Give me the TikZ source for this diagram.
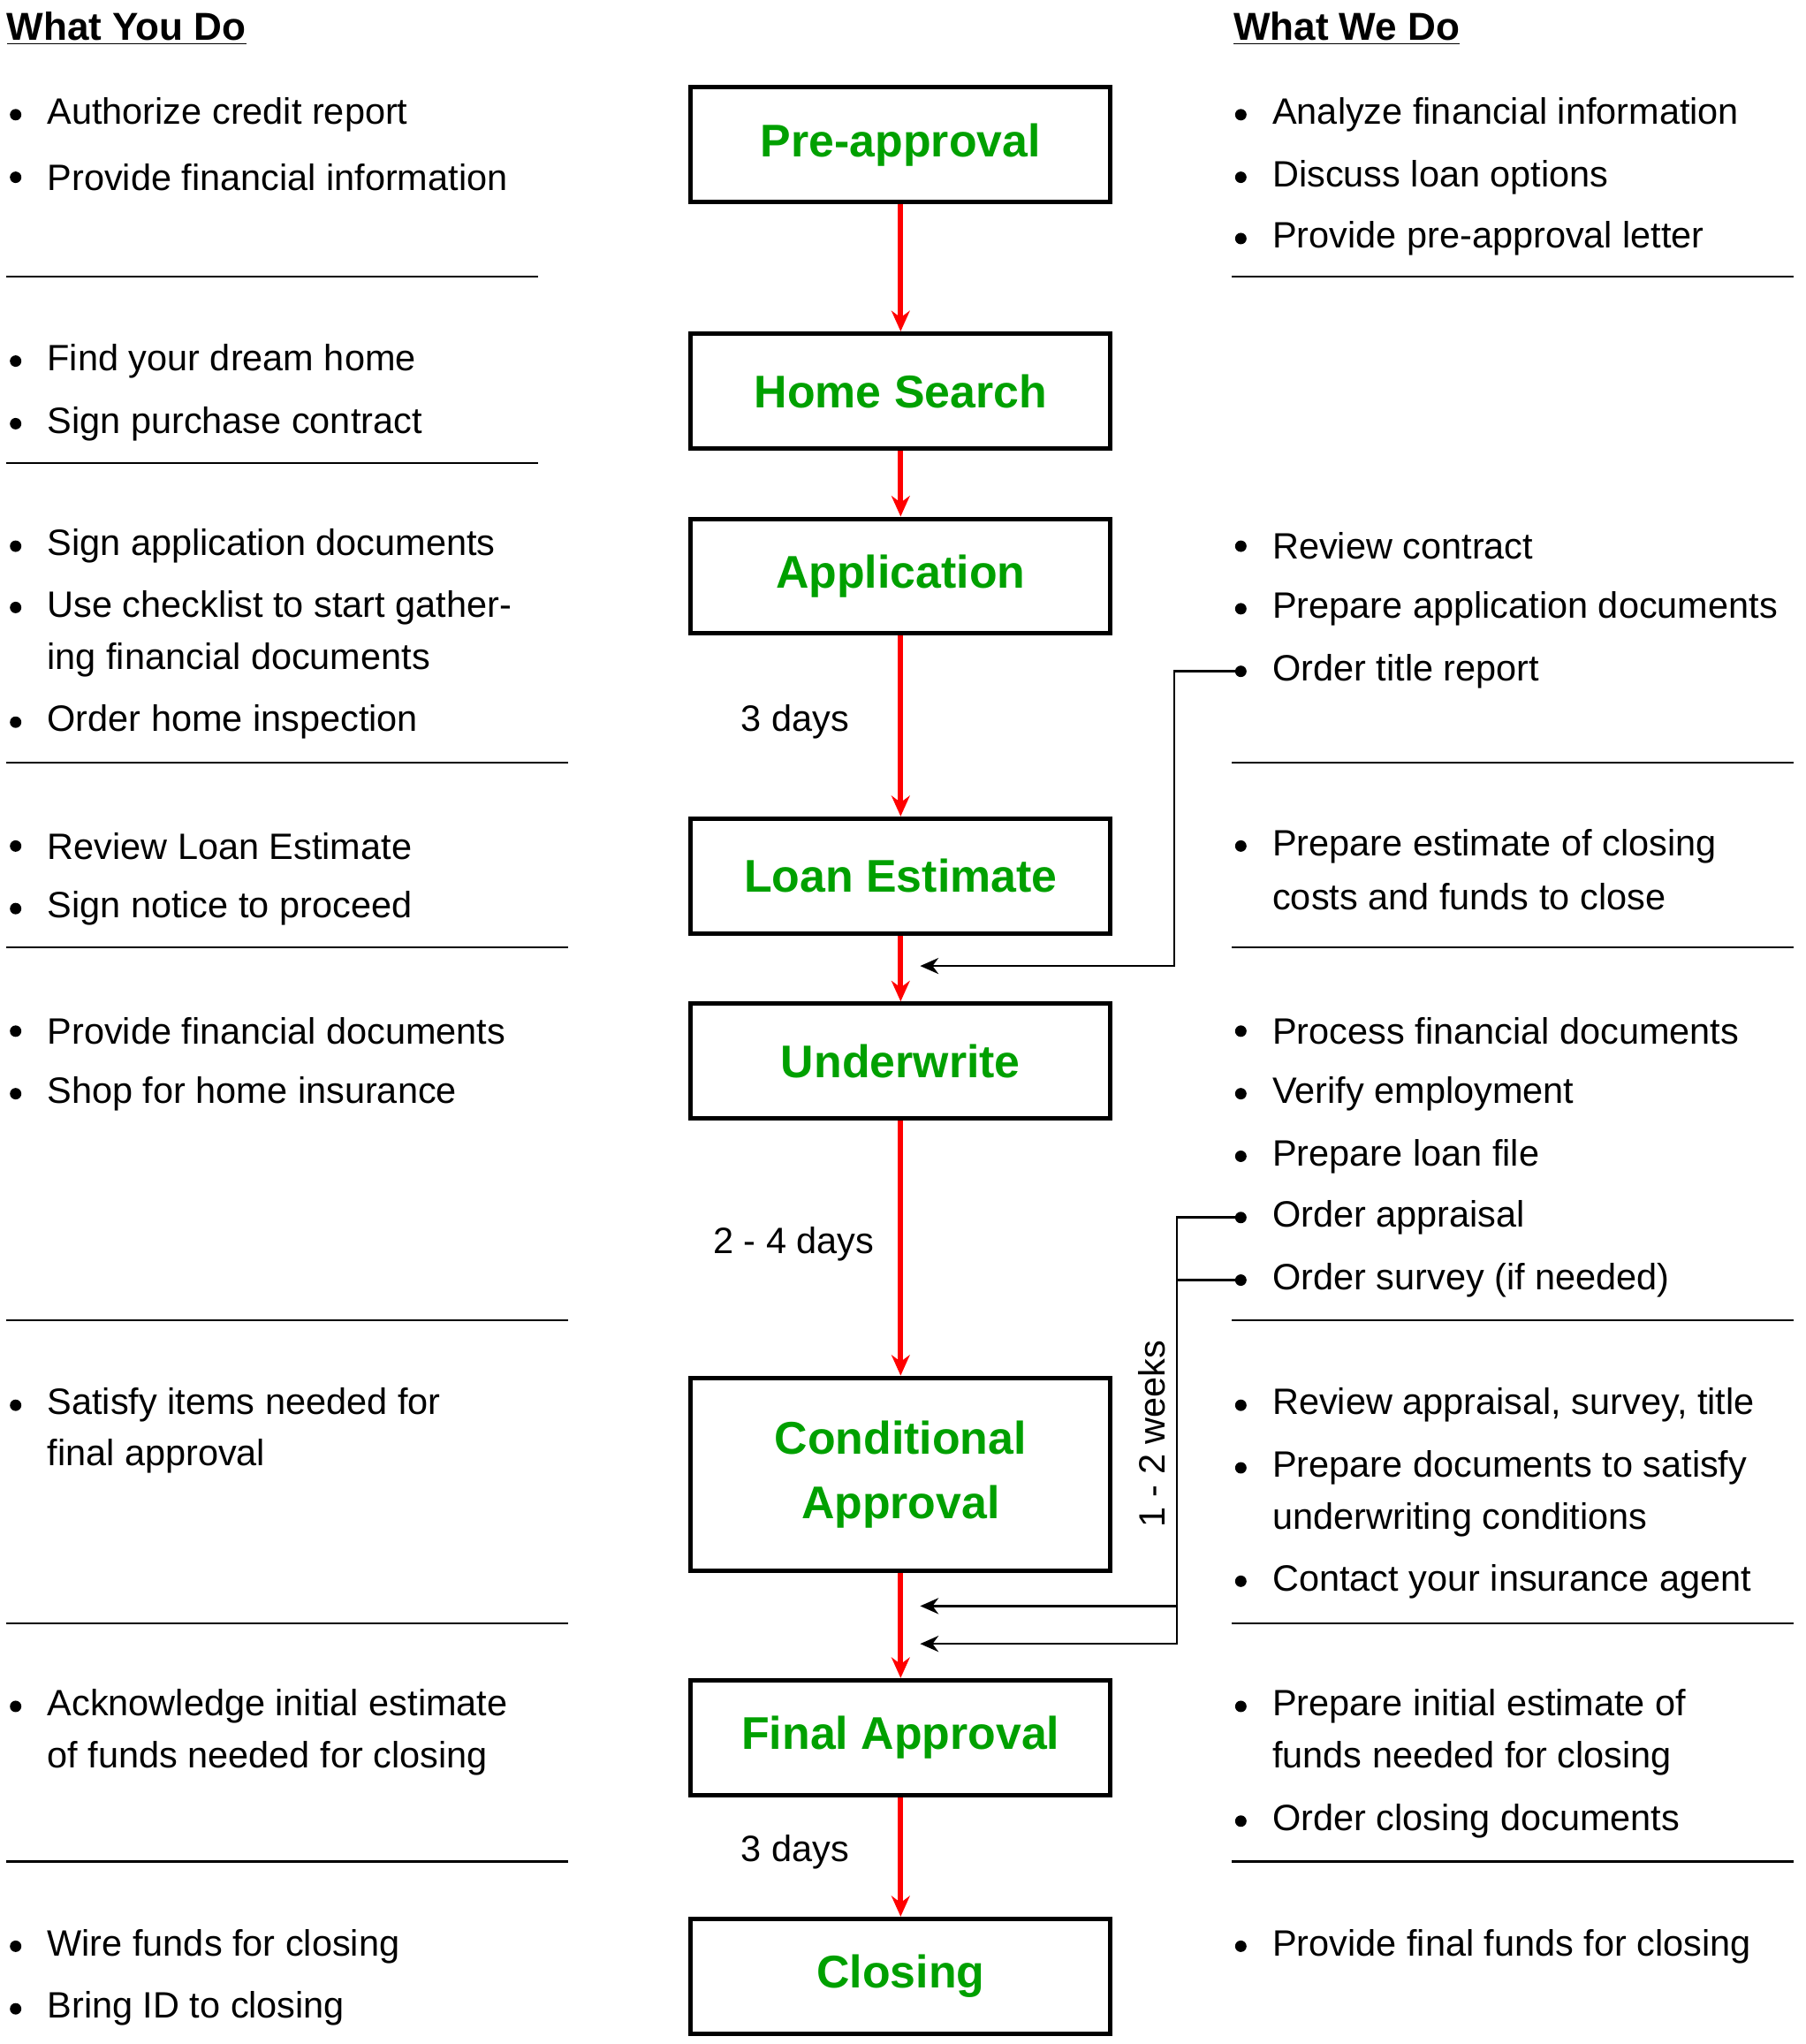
\documentclass[tikz,border=0pt]{standalone}
\usepackage{fontspec}
\setmainfont{Liberation Sans}
\usetikzlibrary{arrows.meta}
\definecolor{stepgreen}{RGB}{0,160,0}
\tikzset{
  stepbox/.style={draw, line width=2pt, minimum width=6.44cm, minimum height=1.76cm,
    text=stepgreen, font=\fontsize{20}{28}\selectfont\bfseries, align=center},
  flow/.style={red, line width=2.4pt, -{Stealth[length=9pt,width=8pt]}},
  link/.style={black, line width=1pt, -{Stealth[length=8pt,width=7pt]}},
  txt/.style={anchor=west, inner sep=0pt, font=\fontsize{16}{20}\selectfont},
  dot/.style={circle, fill, inner sep=0pt, minimum size=5pt},
  rule/.style={line width=0.8pt}
}
\begin{document}
\begin{tikzpicture}[x=0.02cm, y=-0.02cm]
\useasboundingbox (0,0) rectangle (1385,1568);
% headers
\node[txt, font=\fontsize{17}{20}\selectfont\bfseries] (hyou) at (5,22) {\underline{What You Do}};
\node[txt, font=\fontsize{17}{20}\selectfont\bfseries] (hwe) at (946,22) {\underline{What We Do}};
% steps
\node[stepbox] (pre) at (691,111) {Pre-approval};
\node[stepbox] (home) at (691,300) {Home Search};
\node[stepbox] (app) at (691,442) {Application};
\node[stepbox] (le) at (691,672) {Loan Estimate};
\node[stepbox] (uw) at (691,814) {Underwrite};
\node[stepbox, minimum height=2.96cm] (cond) at (691,1131) {Conditional\\Approval};
\node[stepbox] (final) at (691,1333) {Final Approval};
\node[stepbox] (close) at (691,1516) {Closing};
\draw[flow] (pre) -- (home);
\draw[flow] (home) -- (app);
\draw[flow] (app) -- (le);
\draw[flow] (le) -- (uw);
\draw[flow] (uw) -- (cond);
\draw[flow] (cond) -- (final);
\draw[flow] (final) -- (close);
% durations
\node[txt, anchor=center] (d1) at (610,554) {3 days};
\node[txt, anchor=center] (d2) at (609,954) {2 - 4 days};
\node[txt, anchor=center] (d3) at (610,1421) {3 days};
\node[txt, anchor=center, rotate=90] (d4) at (884,1100) {1 - 2 weeks};
% separators
\foreach \y in {212,355} \draw[rule] (5,\y) -- (413,\y);
\foreach \y in {585,727,1013,1245,1428} \draw[rule] (5,\y) -- (436,\y);
\foreach \y in {212,585,727,1013,1245,1428} \draw[rule] (945,\y) -- (1376,\y);
% what you do
\foreach \y [count=\i] in {88,136,277,325,419,466,554,649,697,791,839,1078,1309,1493,1541}
  \node[dot] (lb\i) at (12,\y) {};
\foreach \y/\t [count=\i] in {88/{Authorize credit report},136/{Provide financial information},
  277/{Find your dream home},325/{Sign purchase contract},419/{Sign application documents},
  466/{Use checklist to start gather-},506/{ing financial documents},554/{Order home inspection},
  649/{Review Loan Estimate},697/{Sign notice to proceed},791/{Provide financial documents},
  839/{Shop for home insurance},1078/{Satisfy items needed for},1117/{final approval},
  1309/{Acknowledge initial estimate},1349/{of funds needed for closing},
  1493/{Wire funds for closing},1541/{Bring ID to closing}}
  \node[txt] (lt\i) at (36,\y) {\t};
% what we do
\foreach \y [count=\i] in {88,136,183,419,467,649,791,839,887,1078,1126,1213,1309,1397,1493}
  \node[dot] (rb\i) at (952,\y) {};
\node[dot] (rtitle) at (952,515) {};
\node[dot] (rappr) at (952,934) {};
\node[dot] (rsurv) at (952,982) {};
\foreach \y/\t [count=\i] in {88/{Analyze financial information},136/{Discuss loan options},
  183/{Provide pre-approval letter},419/{Review contract},467/{Prepare application documents},
  515/{Order title report},649/{Prepare estimate of closing},688/{costs and funds to close},
  791/{Process financial documents},839/{Verify employment},887/{Prepare loan file},
  934/{Order appraisal},982/{Order survey (if needed)},1078/{Review appraisal, survey, title},
  1126/{Prepare documents to satisfy},1166/{underwriting conditions},
  1213/{Contact your insurance agent},1309/{Prepare initial estimate of},
  1349/{funds needed for closing},1397/{Order closing documents},1493/{Provide final funds for closing}}
  \node[txt] (rt\i) at (976,\y) {\t};
% feedback links
\coordinate (inle) at (706,741);
\coordinate (inc1) at (706,1232);
\coordinate (inc2) at (706,1261);
\draw[link] (rtitle.center) -- (901,515) |- (inle);
\draw[link] (rappr.center) -- (903,934) |- (inc1);
\draw[link] (rsurv.center) -- (903,982) |- (inc2);
\end{tikzpicture}
\end{document}
